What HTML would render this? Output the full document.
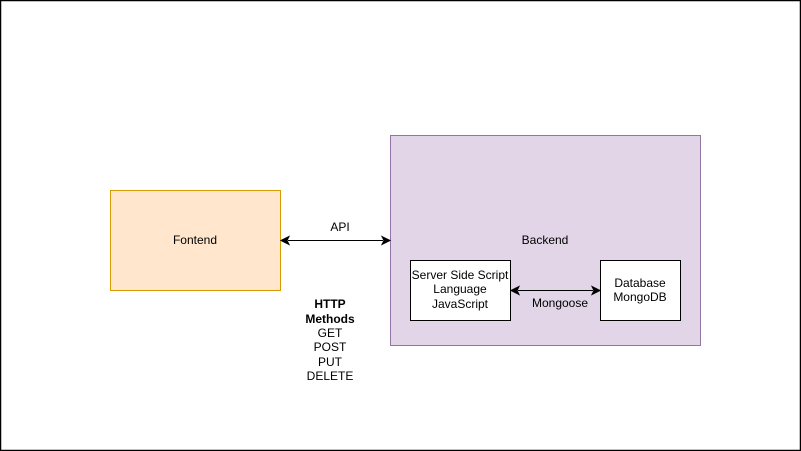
<!DOCTYPE html>
<html><head><meta charset="utf-8"><style>
html,body{margin:0;padding:0;background:#fff}
svg{display:block}
text{font-family:"Liberation Sans",Arial,sans-serif;font-size:12px;fill:#000}
</style></head><body>
<svg width="801" height="451" viewBox="0 0 801 451" xmlns="http://www.w3.org/2000/svg">
<rect x="0.5" y="0.5" width="800" height="450" fill="#fff" stroke="#000" stroke-width="1.5"/>
<rect x="110.5" y="190.5" width="170" height="100" fill="#ffe6cc" stroke="#d79b00"/>
<text x="195" y="244" text-anchor="middle">Fontend</text>
<rect x="390.5" y="135.5" width="310" height="210" fill="#e1d5e7" stroke="#9673a6"/>
<text x="545" y="244" text-anchor="middle">Backend</text>
<rect x="410.5" y="260.5" width="100" height="60" fill="#fff" stroke="#000"/>
<text x="460" y="279" text-anchor="middle">Server Side Script</text>
<text x="460" y="293" text-anchor="middle">Language</text>
<text x="460" y="308" text-anchor="middle">JavaScript</text>
<rect x="600.5" y="260.5" width="80" height="60" fill="#fff" stroke="#000"/>
<text x="640" y="287" text-anchor="middle">Database</text>
<text x="640" y="301" text-anchor="middle">MongoDB</text>
<line x1="288" y1="240.5" x2="383" y2="240.5" stroke="#000"/>
<path d="M281,240.5 L289,236.5 L287,240.5 L289,244.5Z" fill="#000" stroke="#000"/>
<path d="M390,240.5 L382,236.5 L384,240.5 L382,244.5Z" fill="#000" stroke="#000"/>
<text x="340" y="231" text-anchor="middle">API</text>
<line x1="518" y1="290.5" x2="593" y2="290.5" stroke="#000"/>
<path d="M511,290.5 L519,286.5 L517,290.5 L519,294.5Z" fill="#000" stroke="#000"/>
<path d="M600,290.5 L592,286.5 L594,290.5 L592,294.5Z" fill="#000" stroke="#000"/>
<text x="560" y="307" text-anchor="middle">Mongoose</text>
<text x="330" y="308" text-anchor="middle" font-weight="bold">HTTP</text>
<text x="330" y="323" text-anchor="middle" font-weight="bold">Methods</text>
<text x="330" y="337" text-anchor="middle">GET</text>
<text x="330" y="351" text-anchor="middle">POST</text>
<text x="330" y="366" text-anchor="middle">PUT</text>
<text x="330" y="380" text-anchor="middle">DELETE</text>
</svg>
</body></html>
